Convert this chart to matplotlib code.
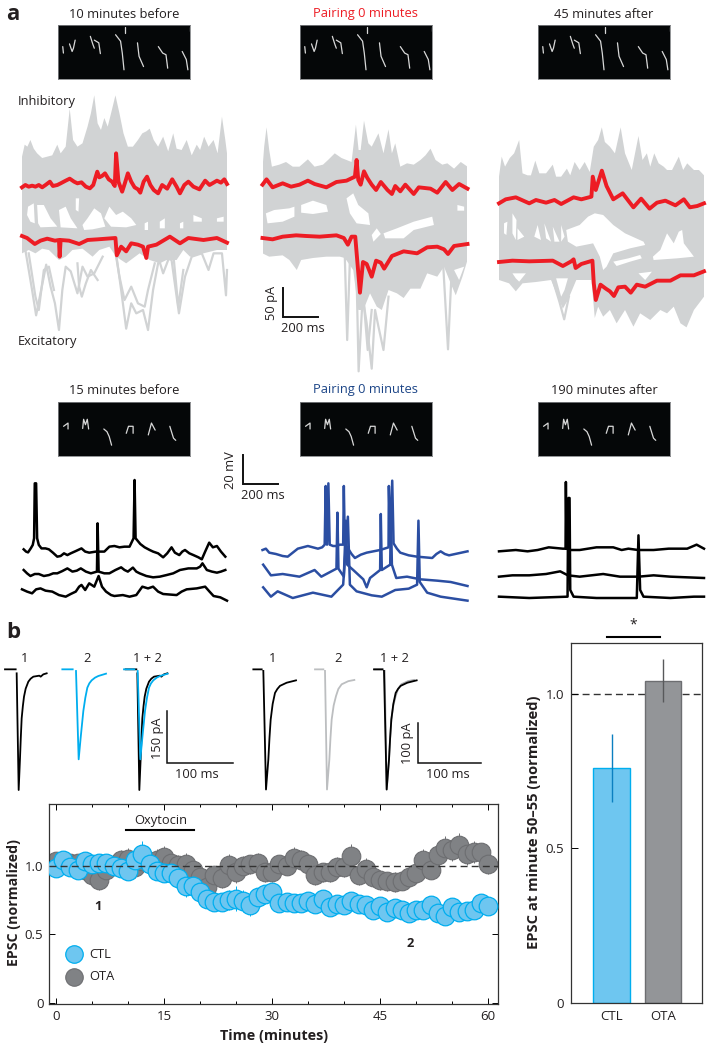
import numpy as np
import matplotlib
matplotlib.use("Agg")
import matplotlib.pyplot as plt

plt.rcParams['font.family'] = ['Open Sans', 'DejaVu Sans']
W, H = 711, 1050

# ---------- panel a: current traces (time in ms, current in pA) ----------
P1_TOP_T = [0,16,32,50,70,90,120,150,180,210,230,260,284,304,330,360,390,410,430,450,470,490,510,530,556,580,604,630,660,690,716,740,760,784,810,840,870,900,920,950,980,1010,1040,1060,1084,1110,1140,1164,1190,1210,1220]
P1_TOP_V = [90,108,105,115,102,95,88,90,92,108,95,105,162,115,105,110,135,155,182,140,130,148,135,155,182,155,125,105,105,115,125,128,132,115,105,120,98,125,102,100,115,92,108,100,120,105,115,95,150,115,95]
P1_BOT_T = [0,40,80,120,160,220,260,300,360,420,460,520,560,620,700,760,820,860,920,960,1000,1080,1160,1220]
P1_BOT_V = [-55,-50,-55,-48,-50,-65,-60,-50,-48,-60,-50,-45,-60,-70,-55,-65,-70,-65,-65,-50,-60,-55,-50,-50]
P1_GAPS = [
    ([36,70,76,50,30],[15,20,-10,-7.5,2.5]),
    ([90,130,170,210,110,96],[17.5,17.5,-2.5,-15,-16,-10]),
    ([220,260,290,330,230],[10,15,-2.5,-17.5,-16]),
    ([360,390,430,470,496,420,370],[-12.5,-2.5,12.5,5,-15,-19,-20]),
    ([490,520,560,600,650,680,620,530],[-2.5,15,2.5,7.5,-2.5,-12.5,-16,-15]),
    ([320,340,336,320],[27.5,27.5,7.5,10]),
    ([730,750,750,730],[-10,-7.5,-20,-20]),
    ([820,850,850,820],[-7.5,-2.5,-17.5,-17.5]),
    ([940,960,960,940],[-10,-7.5,-17.5,-17.5]),
    ([1020,1070,1070,1020],[2.5,-2.5,-7.5,-7.5]),
    ([1160,1200,1200,1160],[-2.5,0,-7.5,-7.5]),
]
P1_STROKES = [
    ([20,60,84,110,144,170,196,220,240,260,290,330,360,390,430,480],
     [-50,-110,-148,-115,-72,-105,-130,-170,-110,-75,-82,-115,-75,-90,-85,-60]),
    ([560,590,620,650,680,720,750,780,810,840,890,934,970,1010,1070,1110,1140,1190,1214,1220],
     [-55,-110,-168,-130,-145,-140,-170,-110,-70,-60,-65,-145,-90,-60,-55,-80,-55,-55,-118,-80]),
    ([560,580,610,650,690,730,750,790],[-60,-90,-125,-105,-130,-135,-110,-70]),
    ([40,80,100,130,160,190],[-55,-120,-140,-80,-75,-110]),
    ([330,340,356,380,410,450],[-70,-105,-120,-100,-80,-95]),
    ([900,930,960],[-55,-135,-80]),
    ([810,840,870],[-60,-85,-65]),
]
P1_RED_INH_T = [0,20,40,60,80,100,120,140,166,184,210,230,260,284,310,330,354,380,404,424,448,460,476,494,516,536,552,560,574,596,612,630,650,670,690,704,724,744,764,784,810,834,864,894,920,940,966,990,1020,1056,1090,1116,1140,1160,1184,1204,1220]
P1_RED_INH_V = [44,47.5,45,46.5,45,47.5,44,47.5,52.5,46,47.5,50,54,57,52.5,50,51.5,45,42.5,47.5,67.5,59,61,65,56,52.5,46,95,52.5,37.5,50,65,52.5,44,41,36,52.5,60,47.5,40,35,47.5,42,56,45,35,47.5,52.5,45,41,54,47.5,51,54,51,56,49]
P1_RED_EXC_T = [0,30,76,110,150,196,220,224,230,280,340,390,450,556,564,590,620,650,690,720,740,750,800,880,940,990,1080,1160,1220]
P1_RED_EXC_V = [-29,-32,-41,-36,-33,-36,-35,-60,-35,-36,-41,-35,-34,-32,-58,-45,-52,-40,-42,-45,-62,-45,-42,-30,-40,-32,-35,-32,-39]

P2_TOP_T = [0,10,24,40,56,100,140,180,220,270,310,360,390,430,470,500,530,556,572,584,604,630,650,690,720,750,770,790,820,860,900,940,970,1000,1030,1070,1100,1140,1180,1220]
P2_TOP_V = [102,135,164,130,105,108,112,105,105,116,105,108,115,125,118,115,112,168,130,130,174,140,135,155,125,161,125,140,105,110,108,115,122,132,115,108,110,102,112,105]
P2_BOT_T = [0,40,120,160,204,230,300,380,460,490,540,570,600,640,680,710,750,800,840,880,940,980,1040,1080,1120,1150,1190,1220]
P2_BOT_V = [-25,-30,-28,-35,-50,-35,-32,-30,-30,-32,-50,-110,-110,-85,-105,-110,-80,-85,-92,-78,-78,-55,-60,-45,-70,-88,-60,-35]
P2_GAPS = [
    ([20,70,160,190,190,120,30],[35,40,42.5,45,30,22.5,20]),
    ([230,300,380,390,300,230],[47.5,54,47.5,37.5,34,36]),
    ([500,540,570,630,640,560,520],[57.5,65,47.5,35,17.5,20,35]),
    ([650,680,704,660],[2.5,12.5,4,-7.5]),
    ([720,800,900,1010,1020,900,840,730],[5,12.5,22.5,30,17.5,10,-2.5,-2.5]),
    ([1160,1200,1200,1160],[47.5,45,39,39]),
    ([1140,1200,1170],[-50,-45,-65]),
]
P2_STROKES = [
    ([490,504,520], [-32,-155,-35]),
    ([560,572,596,620,650,670,690,720,750], [-60,-202,-90,-130,-198,-110,-135,-170,-90]),
    ([600,626,650], [-90,-170,-110]),
    ([1076,1104,1124], [-45,-169,-60]),
]
P2_RED_INH_T = [0,24,60,120,170,220,270,310,380,440,500,550,560,570,584,604,624,650,676,704,744,770,790,820,850,900,930,1000,1040,1090,1130,1170,1220]
P2_RED_INH_V = [78,86,74,80,75,78,84,79,74,82,84,90,115,85,78,98,88,78,70,82,70,64,76,68,78,64,74,72,66,82,70,79,72]
P2_RED_EXC_T = [0,60,120,200,260,340,440,484,508,530,552,580,598,620,650,676,704,724,770,840,920,980,1040,1080,1104,1140,1220]
P2_RED_EXC_V = [-2,-4,0,2,1,0,2,-2,-12,0,0,-84,-38,-41,-60,-36,-39,-48,-29,-22,-25,-16,-15,-19,-26,-14,-11]

P3_TOP_T = [0,16,36,64,90,120,140,170,190,216,240,280,320,340,370,404,424,450,480,510,540,564,590,612,630,660,690,724,750,790,830,854,880,900,924,950,980,1000,1030,1070,1096,1120,1160,1190,1220]
P3_TOP_V = [90,120,105,118,125,145,95,92,92,114,95,95,108,90,90,102,92,112,100,112,97,135,145,164,142,135,125,164,125,100,151,115,125,105,125,110,105,100,100,120,100,110,100,100,92]
P3_BOT_T = [0,60,100,140,220,310,350,380,410,460,550,570,590,620,660,700,750,800,840,900,960,1000,1040,1080,1116,1160,1220]
P3_BOT_V = [-65,-70,-82,-70,-68,-65,-90,-108,-95,-65,-65,-122,-105,-120,-110,-130,-110,-135,-115,-125,-110,-115,-105,-130,-136,-110,-90]
P3_GAPS = [
    ([30,50,44,30],[20,22.5,2.5,5]),
    ([80,104,100,80],[35,25,-5,5]),
    ([110,150,110],[12.5,0,-5]),
    ([230,250,210],[17.5,-5,0]),
    ([270,310,280],[20,-7.5,-2.5]),
    ([320,360,330],[15,-7.5,-7.5]),
    ([370,390,370],[17.5,0,-7.5]),
    ([400,480,530,570,620,680,750,860,870,780,680,640,620,600,560,460,410],
     [10,17.5,30,35,32.5,17.5,5,-7.5,-12.5,-17.5,-25,-45,-50,-30,-10,-15,-7.5]),
    ([680,770,840,850,780,700],[-37.5,-32.5,-27.5,-32.5,-37.5,-44]),
    ([916,960,1000,1040,1070,1090,1100,1160,1060,920],[-30,-20,5,-10,7.5,10,-10,-30,-32.5,-35]),
    ([80,160,120,100],[-55,-55,-67.5,-62.5]),
    ([340,410,390,370],[-62.5,-62.5,-80,-90]),
    ([830,910,870],[-55,-52.5,-65]),
]
P3_STROKES = [([320,360,388,416], [-65,-98,-124,-90])]
P3_RED_INH_T = [0,40,100,180,220,280,330,370,444,490,550,558,576,612,640,680,736,800,846,896,940,990,1050,1100,1136,1180,1220]
P3_RED_INH_V = [50,56,59,50,55,51,55,49,59,56,60,90,70,99,76,56,65,44,57,42,51,54,47,56,44,46,50]
P3_RED_EXC_T = [0,80,180,320,380,430,444,456,490,556,564,576,604,636,660,684,710,750,784,820,870,940,1020,1080,1160,1220]
P3_RED_EXC_V = [-38,-36,-37,-36,-44,-37,-34,-47,-41,-36,-70,-95,-72,-78,-82,-89,-76,-75,-84,-72,-75,-66,-66,-58,-58,-52]

# ---------- panel a: voltage traces (time in ms, voltage in mV) ----------
V1A_T = [10,24,36,52,64,72,76,84,90,100,116,140,160,184,210,230,250,270,290,320,354,376,400,440,490,520,550,580,610,640,664,670,676,704,730,760,780,810,840,864,890,910,936,954,970,996,1020,1050,1070,1090,1114,1136,1160,1184,1210]
V1A_V = [40.5,38.8,38.2,41.2,43.8,48.8,90,90,48.8,43.8,41.2,41.2,40.5,38,35,35.5,37.5,36.2,37.5,39.2,41.2,38.8,38,38.8,38.8,42.5,43,42,42.5,42.5,48.8,92.5,48.8,44.5,42,40,38.8,37.5,34.5,37.5,42,38,36.2,38.8,40,37.5,36.2,34.5,33,38.8,45.5,42,43,38.8,35]
V1B_T = [10,30,50,76,100,130,160,186,210,240,270,300,326,350,380,410,446,450,456,490,520,556,590,610,630,660,680,700,740,780,820,860,900,940,990,1040,1060,1074,1100,1130,1160,1184,1210]
V1B_V = [25,22.5,20.5,22,22,20.5,21.2,22.5,22.5,24.2,26.2,23.8,24.5,26.2,23.8,22.5,23.8,60,23.8,22.5,22.5,25,27,25,23.8,26.8,23.8,22.5,20.5,19.5,20,21.2,22.5,25,26.2,26.2,27.5,30,25,23.8,23,23.8,25]
V1C_T = [0,30,60,84,110,140,180,220,260,290,320,340,354,376,400,430,456,476,500,530,550,600,640,680,716,750,780,810,840,920,950,980,1040,1090,1116,1140,1180,1220]
V1C_V = [10.5,8.8,7.5,10.5,11.2,9.5,8.8,6.2,5,7,8.8,12.5,13.8,10,15,12.5,20.5,12.5,8.8,6.2,5.5,6.2,5,6.2,12.5,11.2,12.5,8.8,7,6.2,8.8,10.5,11.2,12.5,8.8,5.5,4.5,2]

V2A_T = [0,20,40,80,120,150,180,210,240,270,300,330,355,370,376,384,392,400,420,440,460,480,484,490,510,530,550,585,620,660,700,725,750,752,760,772,780,800,820,870,920,965,1010,1035,1060,1085,1110,1165,1220]
V2A_V = [40,41,38,37,35.5,35,38,41,42,43,42,41,42,44,88,44,90,44,43,43,44,44,88,44,41,37,34,36.5,38,39,40,41,42,88,44,92,45,41,38,36,35,34.5,34,37,39,37,36,37.5,39]
V2B_T = [4,50,120,220,310,350,410,440,446,452,484,496,504,540,600,620,640,700,704,710,760,764,770,796,860,940,1040,1120,1220]
V2B_V = [29,21,22,20,25,20,24,26,68,26,20,62,29,25,18,12,19,25,67,25,29,69,29,19,20,18,17,16,13]
V2C_T = [4,50,90,180,300,410,480,508,520,560,650,710,790,870,920,928,936,980,1060,1220]
V2C_V = [12,5,9,4,8,5,14,65,14,9,6,5,10,11,14,62,16,8,5,2]

V3A_T = [0,100,170,230,296,380,396,398,402,422,480,580,680,730,770,828,920,1010,1120,1176,1220]
V3A_V = [39,40,39,40,42,41,41,91,41,40,40,42,42,40,41,40,40,41,41,44,41]
V3B_T = [0,80,180,280,364,410,480,620,720,830,920,1020,1220]
V3B_V = [20,21,21,22,24,21,20,22,20,20,21,20,19]
V3C_T = [0,180,408,412,416,420,424,444,580,820,830,840,860,1020,1160,1220]
V3C_V = [5,4,5,79,79,79,10,5,4,4,51,10,5,4,5,5]

# ---------- spectrograms (time in ms, frequency in kHz) ----------
SONG_A = [
    ([36,41],[6.0,4.8]), ([87,107,117,130],[6.5,5.1,5.7,7.2]),
    ([245,263,275],[7.9,6.5,5.7]), ([275,309,321],[7.2,6.7,4.7]),
    ([436,474,487,500],[8.2,7.0,4.8,1.7]), ([505,505],[9.7,8.6]),
    ([602,614,648],[6.7,4.2,2.3]), ([760,793,818,831],[6.0,4.8,4.5,2.0]),
    ([941,972,984],[5.1,3.6,1.7]), ([997,997],[9.7,8.8]),
]
SONG_B = [
    ([42,76,76],[5.5,6.1,5.0]), ([187,194,208,222,232],[5.1,6.8,5.8,6.8,5.0]),
    ([347,371,388,406],[5.0,4.5,3.6,2.0]), ([517,534,569,569],[4.2,5.5,5.5,4.2]),
    ([684,708,736],[3.9,6.1,4.8]), ([847,875,892],[5.5,3.3,2.9]),
]

# ---------- panel b: EPSC waveforms (time in ms, current in pA) ----------
W1_T = [0,16,np.nan,17.5,20.5,22.5,23.7,25,26.8,28.5,31,35,38.5,42.5,51.5,53.5,57.5,62.5]
W1_I = [0,0,np.nan,-12,-362,-267,-205,-147,-110,-82,-58,-37,-28,-22,-19,-22,-15,-12]
W2_T = [0,15.5,np.nan,20.5,24.5,27.5,29.5,31.5,34.5,37.5,40.5,44,49,54,65.5]
W2_I = [0,0,np.nan,-5,-270,-205,-165,-125,-85,-55,-42,-33,-25,-20,-13]
W3_T = [0,12.5,np.nan,15,19,22.5,24.2,26,29,32.5,36,40,50,64]
W3_I = [0,0,np.nan,-4,-306,-230,-175,-128,-88,-60,-50,-42,-34,-28]
W4_T = [0,12.5,np.nan,15,18,21.5,23.2,25,28,31.5,35,40,50,59]
W4_I = [0,0,np.nan,-4,-306,-230,-175,-128,-92,-68,-50,-38,-30,-27]

# ---------- panel b: time course ----------
MINUTES = list(range(61))
CTL = [.98,1.04,.99,.97,1.03,1.01,1.02,1.02,1.00,.98,.96,1.04,1.085,1.01,.96,.945,.945,.91,.855,.855,.805,.76,.735,.735,.75,.76,.745,.715,.77,.79,.805,.725,.735,.725,.725,.74,.72,.76,.70,.72,.715,.745,.72,.715,.68,.71,.66,.695,.68,.655,.68,.68,.715,.655,.635,.70,.66,.67,.68,.725,.705]
CTL_ERR = [.05,.06,.05,.05,.05,.06,.05,.05,.05,.05,.06,.07,.09,.06,.06,.05,.06,.06,.08,.07,.07,.06,.06,.06,.07,.09,.08,.08,.07,.07,.06,.05,.05,.05,.05,.05,.05,.06,.05,.05,.05,.05,.05,.05,.05,.05,.06,.05,.05,.05,.05,.05,.05,.05,.06,.05,.05,.05,.05,.05,.05]
OTA = [1.03,1.02,1.02,1.02,.97,.93,.895,.97,1.005,1.04,1.05,.99,1.03,1.02,1.04,1.065,1.02,1.005,1.01,.97,.92,.845,.93,.91,1.005,.95,1.0,1.01,1.02,.95,.95,1.01,1.0,1.055,1.04,1.01,.93,.95,.95,.99,.99,1.07,.93,.975,.915,.895,.885,.88,.89,.92,.945,1.04,.97,1.08,1.125,1.115,1.15,1.085,1.10,1.095,1.01]
OTA_ERR = [.07,.06,.06,.06,.07,.07,.07,.07,.07,.07,.08,.08,.08,.08,.08,.08,.08,.07,.08,.07,.07,.08,.07,.07,.08,.08,.07,.07,.07,.07,.07,.07,.07,.08,.07,.07,.07,.07,.07,.07,.07,.09,.07,.08,.07,.07,.07,.07,.07,.07,.07,.08,.07,.09,.09,.08,.09,.08,.08,.07,.07]
TC_XTICKS = [0,15,30,45,60]
TC_XMINOR = [5,10,20,25,35,40,50,55]
TC_YTICKS = [0,0.5,1.0]
TC_YLABELS = ['0','0.5','1.0']

# ---------- panel b: bars ----------
GROUPS = ['CTL','OTA']
BAR_VALUES = [0.761,1.043]
BAR_ERRS = [0.11,0.07]

GRAY = '#D1D3D4'; RED = '#ED1C24'; BLUE = '#2B4EA2'
CYAN = '#00AEEF'; CYAN_F = '#6EC6F0'; DGRAY = '#808285'; DGRAY_E = '#6D6E71'
TXT = '#231F20'
MS = 13.4

fig = plt.figure(figsize=(W/100, H/100), dpi=100)

def px_axes(x0, y0, x1, y1, **kw):
    return fig.add_axes([x0/W, 1-y1/H, (x1-x0)/W, (y1-y0)/H], **kw)

def trace_axes(left, top, bottom_val=-220, top_val=190, px_per_unit=1/1.5):
    a = px_axes(left, top, left+205, top+(top_val-bottom_val)*px_per_unit)
    a.set_xlim(0, 1220); a.set_ylim(bottom_val, top_val)
    a.axis('off'); a.patch.set_alpha(0)
    return a

panels = [
    (22, 90, (P1_TOP_T,P1_TOP_V), (P1_BOT_T,P1_BOT_V), P1_GAPS, P1_STROKES,
     (P1_RED_INH_T,P1_RED_INH_V), (P1_RED_EXC_T,P1_RED_EXC_V)),
    (262.5, 110, (P2_TOP_T,P2_TOP_V), (P2_BOT_T,P2_BOT_V), P2_GAPS, P2_STROKES,
     (P2_RED_INH_T,P2_RED_INH_V), (P2_RED_EXC_T,P2_RED_EXC_V)),
    (499, 110, (P3_TOP_T,P3_TOP_V), (P3_BOT_T,P3_BOT_V), P3_GAPS, P3_STROKES,
     (P3_RED_INH_T,P3_RED_INH_V), (P3_RED_EXC_T,P3_RED_EXC_V)),
]
for left, top, tp, bt, gaps, strokes, ri, re in panels:
    a = trace_axes(left, top)
    a.fill(list(tp[0])+list(bt[0])[::-1], list(tp[1])+list(bt[1])[::-1], color=GRAY, lw=0)
    for g in gaps:
        a.fill(g[0], g[1], color='white', lw=0)
    for st in strokes:
        a.plot(st[0], st[1], color=GRAY, lw=1.6, solid_joinstyle='round', clip_on=False)
    a.plot(ri[0], ri[1], color=RED, lw=2.8, solid_joinstyle='round', clip_on=False)
    a.plot(re[0], re[1], color=RED, lw=2.8, solid_joinstyle='round', clip_on=False)

volt = [
    (22, 'black', [(V1A_T,V1A_V),(V1B_T,V1B_V),(V1C_T,V1C_V)]),
    (262.5, BLUE, [(V2A_T,V2A_V),(V2B_T,V2B_V),(V2C_T,V2C_V)]),
    (499, 'black', [(V3A_T,V3A_V),(V3B_T,V3B_V),(V3C_T,V3C_V)]),
]
for left, col, trs in volt:
    a = trace_axes(left, 470, 0, 100, 4/3)
    for t, v in trs:
        a.plot(t, v, color=col, lw=1.8, solid_joinstyle='round', clip_on=False)

# spectrograms
for y0, y1, song in [(25,79,SONG_A),(402,456,SONG_B)]:
    for x0 in (58, 300, 538):
        a = px_axes(x0, y0, x0+132, y1)
        a.set_facecolor('#050708')
        a.set_xlim(0, 1000); a.set_ylim(0, 10)
        a.set_xticks([]); a.set_yticks([])
        for s in a.spines.values():
            s.set_color('#808285'); s.set_linewidth(0.6)
        for st in song:
            a.plot(st[0], st[1], color='#D8D8D8', lw=0.9, solid_capstyle='round')

# EPSC waveforms
wl = px_axes(0, 625, 510, 795)
wl.set_xlim(0, 765); wl.set_ylim(-377, 133); wl.axis('off'); wl.patch.set_alpha(0)
def wave(a, t, i, off, col, lw=1.3):
    a.plot(np.array(t)+off, i, color=col, lw=lw, solid_joinstyle='round')
wave(wl, W1_T, W1_I, 7.5, 'black')
wave(wl, W2_T, W2_I, 93.5, CYAN)
wave(wl, W1_T, W1_I, 188.5, 'black')
wave(wl, W2_T, W2_I, 186, CYAN)
wr = px_axes(0, 625, 510, 795)
wr.set_xlim(0, 765); wr.set_ylim(-320, 113); wr.axis('off'); wr.patch.set_alpha(0)
wave(wr, W3_T, W3_I, 380, 'black')
wave(wr, W4_T, W4_I, 472.5, '#BCBEC0')
wave(wr, W4_T, W4_I, 562, '#A7A9AC')
wave(wr, W3_T, W3_I, 561, 'black')

# time course
tc = px_axes(49, 804, 498.3, 1004)
tc.set_xlim(-0.97, 61.4); tc.set_ylim(-0.005, 1.447)
tc.errorbar(MINUTES, OTA, yerr=OTA_ERR, fmt='none', ecolor=DGRAY_E, elinewidth=0.7, zorder=1.5)
for x, y in zip(MINUTES, OTA):
    tc.scatter([x], [y], s=MS**2, facecolor=DGRAY, edgecolor=DGRAY_E, linewidth=0.8, zorder=2)
tc.errorbar(MINUTES, CTL, yerr=CTL_ERR, fmt='none', ecolor=CYAN, elinewidth=0.7, zorder=2.5)
for x, y in zip(MINUTES, CTL):
    tc.scatter([x], [y], s=MS**2, facecolor=CYAN_F, edgecolor=CYAN, linewidth=0.9, zorder=3)
tc.plot([-0.97, 61.4], [1, 1], color='#333333', lw=1, dashes=(5, 3), zorder=4)
tc.plot([9.7, 19.2], [1.26, 1.26], color='black', lw=1.5)
tc.text(14.6, 1.325, 'Oxytocin', ha='center', va='center', fontsize=9.3, color=TXT)
tc.text(5.8, 0.70, '1', ha='center', va='center', fontsize=9.3, fontweight='bold', color=TXT)
tc.text(49.2, 0.435, '2', ha='center', va='center', fontsize=9.3, fontweight='bold', color=TXT)
tc.scatter([2.5], [0.356], s=12.6**2, facecolor=CYAN_F, edgecolor=CYAN, linewidth=0.9, zorder=3)
tc.scatter([2.5], [0.194], s=12.6**2, facecolor=DGRAY, edgecolor=DGRAY_E, linewidth=0.8, zorder=3)
tc.text(4.6, 0.356, 'CTL', ha='left', va='center', fontsize=9.3, color=TXT)
tc.text(4.6, 0.194, 'OTA', ha='left', va='center', fontsize=9.3, color=TXT)
tc.set_xticks(TC_XTICKS); tc.set_xticks(TC_XMINOR, minor=True)
tc.set_yticks(TC_YTICKS); tc.set_yticklabels(TC_YLABELS)
tc.tick_params(axis='both', which='major', direction='in', length=4, width=0.7, top=True, right=True,
               labelsize=9.5, labelcolor=TXT, pad=4)
tc.tick_params(axis='x', which='minor', direction='in', length=2.5, width=0.7, top=True)
for s in tc.spines.values():
    s.set_color('#333333'); s.set_linewidth(0.9)

# bars
br = px_axes(571, 642.7, 702.3, 1002.7)
br.set_xlim(-0.79, 1.766); br.set_ylim(0, 1.166)
br.plot([-0.79, 1.766], [1, 1], color='#333333', lw=1, dashes=(5, 3), zorder=1)
br.bar([0], BAR_VALUES[0], width=0.714, facecolor=CYAN_F, edgecolor=CYAN, linewidth=1, zorder=2)
br.bar([1], BAR_VALUES[1], width=0.714, facecolor='#939598', edgecolor=DGRAY_E, linewidth=1, zorder=2)
br.errorbar([0], BAR_VALUES[0], yerr=BAR_ERRS[0], fmt='none', ecolor='#0B7FC0', elinewidth=1, zorder=3)
br.errorbar([1], BAR_VALUES[1], yerr=BAR_ERRS[1], fmt='none', ecolor='#58595B', elinewidth=1, zorder=3)
br.set_xticks([0, 1]); br.set_xticklabels(GROUPS)
br.set_yticks([0, 0.5, 1.0]); br.set_yticklabels(['0', '0.5', '1.0'])
br.tick_params(axis='x', length=0, labelsize=9.5, labelcolor=TXT, pad=5)
br.tick_params(axis='y', direction='in', length=5, width=0.7, labelsize=9.5, labelcolor=TXT, pad=5)
for s in br.spines.values():
    s.set_color('#333333'); s.set_linewidth(0.9)

# overlay: labels and scale bars, in pixel positions
ov = px_axes(0, 0, W, H)
ov.set_xlim(0, W); ov.set_ylim(H, 0); ov.axis('off'); ov.patch.set_alpha(0)
def T(x, y, s, size=9.3, col=TXT, ha='center', rot=0, weight='normal'):
    ov.text(x, y, s, fontsize=size, color=col, ha=ha, va='center', rotation=rot, fontweight=weight)
def bar_l(x, ytop, ybot, xr, lw=1.4):
    ov.plot([x, x, xr], [ytop, ybot, ybot], color='#111111', lw=lw, solid_joinstyle='miter')

T(124, 14, '10 minutes before'); T(365, 14, 'Pairing 0 minutes', col=RED); T(604, 14, '45 minutes after')
T(124, 390, '15 minutes before'); T(365, 390, 'Pairing 0 minutes', col='#1C4587'); T(604, 390, '190 minutes after')
T(18, 101, 'Inhibitory', ha='left'); T(18, 341.7, 'Excitatory', ha='left')
T(13, 14, 'a', size=16, weight='bold'); T(13, 632, 'b', size=16, weight='bold')
bar_l(283.3, 288, 317.3, 318.3); T(272, 303, '50 pA', rot=90); T(303, 328, '200 ms')
bar_l(242.5, 455, 484, 277.6); T(230.6, 470, '20 mV', rot=90); T(262.5, 495.6, '200 ms')
for x, s in [(25,'1'),(87,'2'),(147,'1 + 2'),(273,'1'),(338,'2'),(394,'1 + 2')]:
    T(x, 659, s)
bar_l(167.3, 711, 762.7, 232.5, 1.1); T(157, 738, '150 pA', rot=90); T(197, 774, '100 ms')
bar_l(418, 723, 762.7, 480.7, 1.1); T(407, 743, '100 pA', rot=90); T(448, 774, '100 ms')
T(14, 902, 'EPSC (normalized)', size=10.2, rot=90, weight='bold')
T(274, 1036, 'Time (minutes)', size=10.4, weight='bold')
T(534, 822, 'EPSC at minute 50–55 (normalized)', size=10.6, rot=90, weight='bold')
ov.plot([607.3, 660], [637, 637], color='black', lw=1.5)
T(633, 625, '*', size=10)

fig.savefig('out.png', dpi=100)
